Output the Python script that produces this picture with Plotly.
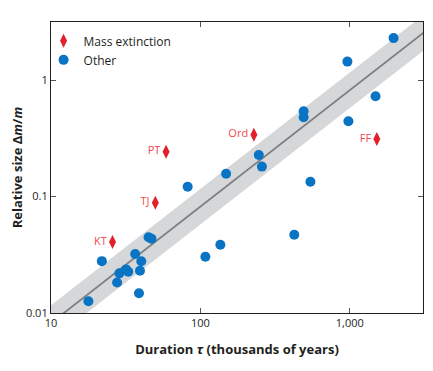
import plotly.graph_objects as go

# ---- data ----
other_tau = [17.8, 21.9, 27.7, 28.7, 31.8, 32.9, 36.6, 39.4, 40.2, 38.8, 45.0, 47.1,
             82.2, 108, 136, 148.6, 246, 258, 425, 545, 491, 491, 964, 979, 1487, 1963]
other_size = [0.0126, 0.0279, 0.0183, 0.0219, 0.0237, 0.0226, 0.0321, 0.0231, 0.0278,
              0.0148, 0.0447, 0.0434, 0.1217, 0.0304, 0.0386, 0.157, 0.228, 0.181,
              0.047, 0.134, 0.541, 0.481, 1.445, 0.444, 0.728, 2.30]

mass_labels = ["KT", "TJ", "PT", "Ord", "FF"]
mass_tau = [25.8, 49.9, 58.9, 228, 1517]
mass_size = [0.0407, 0.0887, 0.243, 0.340, 0.313]

# fit: size = coef * tau^slope, band = fit * / band_factor
fit_slope = 1.0
fit_coef = 0.00082
band_factor = 1.42
fit_tau = [5, 6000]

x_tickvals = [10, 100, 1000]
x_ticktext = ["10", "100", "1,000"]
y_tickvals = [0.01, 0.1, 1]
y_ticktext = ["0.01", "0.1", "1"]

BLUE = "#0a74c4"
RED = "#e3202a"
RED_TEXT = "#f04a4f"
DARK = "#231f20"
FONT = "Open Sans"

fit_vals = [fit_coef * t ** fit_slope for t in fit_tau]
upper = [v * band_factor for v in fit_vals]
lower = [v / band_factor for v in fit_vals]

fig = go.Figure()

# band
fig.add_trace(go.Scatter(
    x=fit_tau + fit_tau[::-1], y=upper + lower[::-1],
    fill="toself", fillcolor="#d5d7d9", line=dict(width=0),
    mode="lines", hoverinfo="skip", showlegend=False))
# fit line
fig.add_trace(go.Scatter(
    x=fit_tau, y=fit_vals, mode="lines",
    line=dict(color="#7d7f81", width=1.8), showlegend=False, hoverinfo="skip"))

# mass extinction
fig.add_trace(go.Scatter(
    x=mass_tau, y=mass_size, mode="markers", name="Mass extinction",
    marker=dict(symbol="diamond-tall", size=10, color=RED, line=dict(width=0))))
fig.add_trace(go.Scatter(
    x=mass_tau, y=mass_size, mode="text",
    text=[lab + "\u00a0\u00a0" for lab in mass_labels],
    textposition="middle left", textfont=dict(color=RED_TEXT, size=11, family=FONT),
    showlegend=False, hoverinfo="skip"))
# other
fig.add_trace(go.Scatter(
    x=other_tau, y=other_size, mode="markers", name="Other",
    marker=dict(symbol="circle", size=10, color=BLUE, line=dict(width=0))))

axis_common = dict(
    showline=True, linecolor=DARK, linewidth=1.2, mirror="ticks",
    ticks="inside", ticklen=5, tickcolor="#555", tickwidth=1.2,
    showgrid=False, zeroline=False, automargin=False,
    tickfont=dict(family=FONT, size=11, color=DARK),
)

fig.update_xaxes(type="log", range=[1, 3.49], tickvals=x_tickvals, ticktext=x_ticktext,
                 title=dict(text="<b>Duration <i>τ</i> (thousands of years)</b>",
                            font=dict(family=FONT, size=13, color=DARK), standoff=15),
                 **axis_common)
fig.update_yaxes(type="log", range=[-2, 0.5], tickvals=y_tickvals, ticktext=y_ticktext,
                 title=dict(text="<b>Relative size Δ<i>m</i>/<i>m</i></b>",
                            font=dict(family=FONT, size=13, color=DARK), standoff=15),
                 **axis_common)

fig.update_layout(
    width=433, height=371,
    margin=dict(l=43, r=18, t=14, b=66),
    paper_bgcolor="white", plot_bgcolor="white",
    font=dict(family=FONT, color=DARK),
    legend=dict(x=-0.02, y=0.985, xanchor="left", yanchor="top",
                bgcolor="rgba(0,0,0,0)", font=dict(family=FONT, size=12, color=DARK),
                itemwidth=30, tracegroupgap=0),
    showlegend=True,
)

fig.write_html("out.html")
